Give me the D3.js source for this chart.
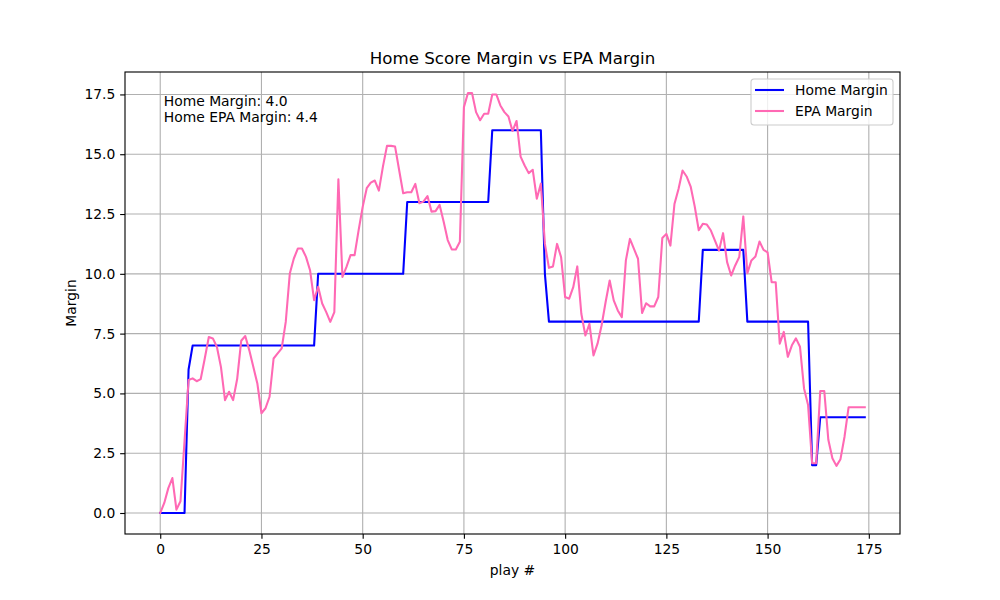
<!DOCTYPE html>
<html>
<head>
<meta charset="utf-8">
<script src="https://cdn.jsdelivr.net/npm/d3@7"></script>
<style>
  body { margin: 0; background: #fff; }
  svg { display: block; font-family: "DejaVu Sans", sans-serif; }
</style>
</head>
<body>
<div id="chart"></div>
<script>
const homeMargin = [
  0, 0, 0, 0, 0, 0, 0, 6, 7, 7,
  7, 7, 7, 7, 7, 7, 7, 7, 7, 7,
  7, 7, 7, 7, 7, 7, 7, 7, 7, 7,
  7, 7, 7, 7, 7, 7, 7, 7, 7, 10,
  10, 10, 10, 10, 10, 10, 10, 10, 10, 10,
  10, 10, 10, 10, 10, 10, 10, 10, 10, 10,
  10, 13, 13, 13, 13, 13, 13, 13, 13, 13,
  13, 13, 13, 13, 13, 13, 13, 13, 13, 13,
  13, 13, 16, 16, 16, 16, 16, 16, 16, 16,
  16, 16, 16, 16, 16, 10, 8, 8, 8, 8,
  8, 8, 8, 8, 8, 8, 8, 8, 8, 8,
  8, 8, 8, 8, 8, 8, 8, 8, 8, 8,
  8, 8, 8, 8, 8, 8, 8, 8, 8, 8,
  8, 8, 8, 8, 11, 11, 11, 11, 11, 11,
  11, 11, 11, 11, 11, 8, 8, 8, 8, 8,
  8, 8, 8, 8, 8, 8, 8, 8, 8, 8,
  8, 2, 2, 4, 4, 4, 4, 4, 4, 4,
  4, 4, 4, 4, 4
];

const epaMargin = [
  0, 0.42, 1.04, 1.46, 0.14, 0.49, 3.0, 5.56, 5.63, 5.51,
  5.6, 6.46, 7.36, 7.3, 6.94, 6.1, 4.72, 5.07, 4.72, 5.6,
  7.2, 7.4, 6.8, 6.1, 5.4, 4.17, 4.38, 4.86, 6.46, 6.67,
  6.88, 7.99, 10.01, 10.64, 11.06, 11.06, 10.71, 10.15, 8.9, 9.46,
  8.76, 8.4, 7.99, 8.4, 13.95, 9.87, 10.29, 10.78, 10.78, 11.83,
  12.8, 13.58, 13.81, 13.9, 13.48, 14.48, 15.35, 15.35, 15.32, 14.34,
  13.37, 13.41, 13.41, 13.76, 12.95, 13.02, 13.25, 12.6, 12.62, 12.88,
  12.18, 11.41, 11.02, 11.02, 11.34, 16.97, 17.56, 17.56, 16.76, 16.42,
  16.69, 16.69, 17.5, 17.5, 17.04, 16.76, 16.58, 15.97, 16.39, 14.9,
  14.53, 14.21, 14.35, 13.14, 13.77, 11.25, 10.25, 10.31, 11.25, 10.7,
  9.03, 8.96, 9.44, 10.31, 8.33, 7.42, 7.91, 6.59, 7.08, 7.84,
  8.82, 9.72, 8.89, 8.47, 8.19, 10.56, 11.46, 11.04, 10.63, 8.36,
  8.77, 8.64, 8.64, 9.03, 11.5, 11.67, 11.18, 12.92, 13.55, 14.32,
  14.07, 13.65, 12.82, 11.82, 12.09, 12.06, 11.81, 11.39, 10.97, 11.7,
  10.49, 9.93, 10.35, 10.7, 12.4, 10.03, 10.56, 10.72, 11.35, 11.0,
  10.9, 9.65, 9.65, 7.08, 7.57, 6.53, 7.01, 7.3, 6.95, 5.21,
  4.51, 2.08, 2.08, 5.1, 5.1, 3.06, 2.29, 1.97, 2.25, 3.19,
  4.42, 4.42, 4.42, 4.42, 4.42
];

const xTicks = [0, 25, 50, 75, 100, 125, 150, 175];
const yTicks = [0, 2.5, 5, 7.5, 10, 12.5, 15, 17.5];
const seriesNames = ["Home Margin", "EPA Margin"];
const seriesColors = ["#0000ff", "#ff69b4"];
const annotation = ["Home Margin: 4.0", "Home EPA Margin: 4.4"];

const width = 1000;
const height = 600;
const margin = { top: 72, right: 100, bottom: 66, left: 125 };
const plotW = width - margin.left - margin.right;
const plotH = height - margin.top - margin.bottom;
const pt = 100 / 72;
const fontSize = 10 * pt;

const svg = d3.select("#chart")
  .append("svg")
  .attr("width", width)
  .attr("height", height);

const chart = svg.append("g")
  .attr("transform", `translate(${margin.left},${margin.top})`);

// matplotlib style 5% padding on both axes
const plays = homeMargin.map((d, i) => i);
const xExt = d3.extent(plays);
const xPad = (xExt[1] - xExt[0]) * 0.05;
const allVals = homeMargin.concat(epaMargin);
const yExt = d3.extent(allVals);
const yPad = (yExt[1] - yExt[0]) * 0.05;

const xScale = d3.scaleLinear().domain([xExt[0] - xPad, xExt[1] + xPad]).range([0, plotW]);
const yScale = d3.scaleLinear().domain([yExt[0] - yPad, yExt[1] + yPad]).range([plotH, 0]);

// grid
chart.append("g")
  .selectAll("line")
  .data(xTicks)
  .join("line")
  .attr("x1", d => xScale(d)).attr("x2", d => xScale(d))
  .attr("y1", 0).attr("y2", plotH)
  .attr("stroke", "#b0b0b0").attr("stroke-width", 0.8 * pt);

chart.append("g")
  .selectAll("line")
  .data(yTicks)
  .join("line")
  .attr("x1", 0).attr("x2", plotW)
  .attr("y1", d => yScale(d)).attr("y2", d => yScale(d))
  .attr("stroke", "#b0b0b0").attr("stroke-width", 0.8 * pt);

// axes
const xAxis = chart.append("g")
  .attr("transform", `translate(0,${plotH})`)
  .call(d3.axisBottom(xScale).tickValues(xTicks).tickFormat(d3.format("d"))
    .tickSizeInner(3.5 * pt).tickSizeOuter(0).tickPadding(3.5 * pt));

const yAxis = chart.append("g")
  .call(d3.axisLeft(yScale).tickValues(yTicks).tickFormat(d3.format(".1f"))
    .tickSizeInner(3.5 * pt).tickSizeOuter(0).tickPadding(3.5 * pt));

[xAxis, yAxis].forEach(ax => {
  ax.select(".domain").remove();
  ax.selectAll(".tick line").attr("stroke", "#000").attr("stroke-width", 0.8 * pt);
  ax.selectAll(".tick text")
    .attr("fill", "#000")
    .style("font-family", "DejaVu Sans")
    .style("font-size", fontSize + "px");
});

// lines
const line = d3.line()
  .x((d, i) => xScale(i))
  .y(d => yScale(d));

[homeMargin, epaMargin].forEach((series, k) => {
  chart.append("path")
    .datum(series)
    .attr("fill", "none")
    .attr("stroke", seriesColors[k])
    .attr("stroke-width", 1.5 * pt)
    .attr("stroke-linejoin", "round")
    .attr("stroke-linecap", "square")
    .attr("d", line);
});

// spines
chart.append("rect")
  .attr("width", plotW)
  .attr("height", plotH)
  .attr("fill", "none")
  .attr("stroke", "#000")
  .attr("stroke-width", 0.8 * pt);

// annotation text
const note = chart.append("text")
  .style("font-size", fontSize + "px")
  .attr("fill", "#000");

annotation.forEach((t, i) => {
  note.append("tspan")
    .attr("x", plotW * 0.05)
    .attr("y", plotH * 0.05 + 11 + i * 16.2)
    .text(t);
});

// legend
const legendW = 142;
const legendH = 46;
const legend = chart.append("g")
  .attr("transform", `translate(${plotW - 7 - legendW},${7})`);

legend.append("rect")
  .attr("width", legendW)
  .attr("height", legendH)
  .attr("rx", 3)
  .attr("fill", "#fff")
  .attr("fill-opacity", 0.8)
  .attr("stroke", "#cccccc")
  .attr("stroke-width", 1.1);

seriesNames.forEach((name, i) => {
  const cy = 11 + i * 21;
  legend.append("line")
    .attr("x1", 4).attr("x2", 33)
    .attr("y1", cy).attr("y2", cy)
    .attr("stroke", seriesColors[i])
    .attr("stroke-width", 1.5 * pt);
  legend.append("text")
    .attr("x", 44)
    .attr("y", cy + 5)
    .style("font-size", fontSize + "px")
    .attr("fill", "#000")
    .text(name);
});

// labels
svg.append("text")
  .attr("x", margin.left + plotW / 2)
  .attr("y", 64)
  .attr("text-anchor", "middle")
  .style("font-size", 12 * pt + "px")
  .text("Home Score Margin vs EPA Margin");

svg.append("text")
  .attr("x", margin.left + plotW / 2)
  .attr("y", 575)
  .attr("text-anchor", "middle")
  .style("font-size", fontSize + "px")
  .text("play #");

svg.append("text")
  .attr("transform", `translate(76,${margin.top + plotH / 2}) rotate(-90)`)
  .attr("text-anchor", "middle")
  .style("font-size", fontSize + "px")
  .text("Margin");
</script>
</body>
</html>
